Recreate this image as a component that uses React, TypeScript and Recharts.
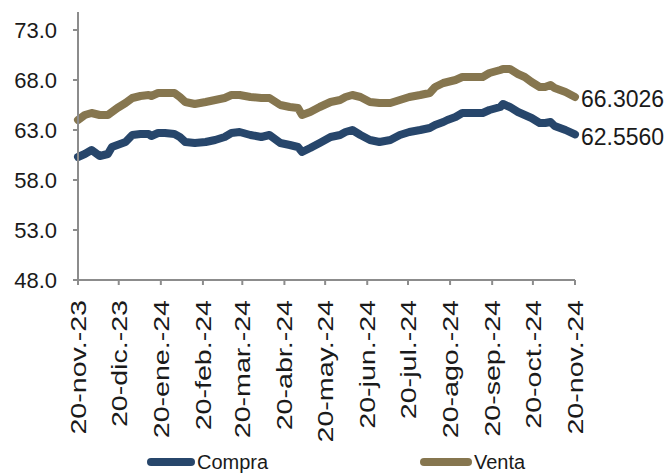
import { LineChart, Line, XAxis, YAxis, Legend } from "recharts";

// días desde el 20-nov-23
const days = [
  0, 5, 10, 16, 22, 25, 29, 35, 40, 46, 52, 54, 59, 64, 71, 75, 79, 86, 94, 101,
  108, 113, 119, 127, 135, 141, 149, 156, 162, 165, 171, 178, 186, 193, 197, 202,
  208, 215, 222, 230, 237, 244, 252, 259, 263, 269, 272, 278, 283, 298, 303, 311,
  313, 318, 324, 329, 334, 340, 344, 348, 351, 359, 366,
];
const compra = [
  60.3, 60.6, 61.0, 60.4, 60.6, 61.3, 61.5, 61.8, 62.5, 62.6, 62.6, 62.4, 62.7, 62.7,
  62.6, 62.3, 61.8, 61.7, 61.8, 62.0, 62.3, 62.7, 62.8, 62.5, 62.3, 62.5, 61.7, 61.5,
  61.3, 60.8, 61.2, 61.7, 62.3, 62.5, 62.8, 63.0, 62.5, 62.0, 61.8, 62.0, 62.5, 62.8,
  63.0, 63.2, 63.5, 63.8, 64.0, 64.3, 64.7, 64.7, 65.0, 65.3, 65.6, 65.3, 64.8, 64.5,
  64.2, 63.7, 63.7, 63.8, 63.4, 63.0, 62.556,
];
const venta = [
  64.0, 64.5, 64.7, 64.5, 64.5, 64.8, 65.2, 65.7, 66.2, 66.4, 66.5, 66.4, 66.7, 66.7,
  66.7, 66.3, 65.8, 65.6, 65.8, 66.0, 66.2, 66.5, 66.5, 66.3, 66.2, 66.2, 65.5, 65.3,
  65.2, 64.5, 64.8, 65.3, 65.8, 66.0, 66.3, 66.5, 66.3, 65.8, 65.7, 65.7, 66.0, 66.3,
  66.5, 66.7, 67.3, 67.7, 67.8, 68.0, 68.3, 68.3, 68.7, 69.0, 69.1, 69.1, 68.6, 68.3,
  67.8, 67.3, 67.3, 67.5, 67.2, 66.8, 66.3026,
];

const tickDays = [0, 30, 61, 92, 121, 152, 182, 213, 243, 274, 305, 335, 366];
const tickLabels = [
  "20-nov.-23", "20-dic.-23", "20-ene.-24", "20-feb.-24", "20-mar.-24", "20-abr.-24",
  "20-may.-24", "20-jun.-24", "20-jul.-24", "20-ago.-24", "20-sep.-24", "20-oct.-24",
  "20-nov.-24",
];
const yTicks = [48, 53, 58, 63, 68, 73];
const endLabels = ["62.5560", "66.3026"];

const data = days.map((d, i) => ({ day: d, compra: compra[i], venta: venta[i] }));

const BLUE = "#27466b";
const KHAKI = "#86764f";
const AXIS = "#8c8c8c";
const FONT = "'Liberation Sans', Arial, sans-serif";

function XTick(props: any) {
  const { x, y, payload } = props;
  const i = tickDays.indexOf(payload.value);
  // the original labels are stretched along their length
  return (
    <g transform={`translate(${x},${y + 13}) rotate(-90) scale(1.3,1)`}>
      <text x={0} y={0} dy="0.36em" textAnchor="end" fill="#1a1a1a" fontSize={22} fontFamily={FONT}>
        {tickLabels[i]}
      </text>
    </g>
  );
}

function endLabel(text: string) {
  return (props: any) => {
    const { x, y, index } = props;
    if (index !== data.length - 1) return null;
    return (
      <text x={x + 6} y={y + 2} dy="0.36em" fill="#1a1a1a" fontSize={23} fontFamily={FONT}>
        {text}
      </text>
    );
  };
}

function LegendBox() {
  return (
    <div style={{ position: "relative", width: 667, height: 38, fontFamily: FONT }}>
      <div style={{ position: "absolute", left: 147, top: 6, width: 48, height: 8, borderRadius: 4, background: BLUE }} />
      <div style={{ position: "absolute", left: 197, top: 0, fontSize: 20, lineHeight: 1, color: "#1a1a1a" }}>
        Compra
      </div>
      <div style={{ position: "absolute", left: 420, top: 6, width: 52, height: 8, borderRadius: 4, background: KHAKI }} />
      <div style={{ position: "absolute", left: 474, top: 0, fontSize: 20, lineHeight: 1, color: "#1a1a1a" }}>
        Venta
      </div>
    </div>
  );
}

export default function App() {
  return (
    <div
      style={{
        position: "absolute",
        left: 0,
        top: 0,
        width: 667,
        height: 475,
        overflow: "hidden",
        background: "#fff",
      }}
    >
      <LineChart width={667} height={490} data={data} margin={{ top: 12, right: 92, left: 0, bottom: 0 }}>
        <XAxis
          dataKey="day"
          type="number"
          domain={[0, 366]}
          ticks={tickDays}
          interval={0}
          height={172}
          tick={<XTick />}
          tickSize={5}
          tickMargin={2}
          stroke={AXIS}
          strokeWidth={2}
        />
        <YAxis
          domain={[48, 74.8]}
          ticks={yTicks}
          width={78}
          tickSize={5}
          tickMargin={16}
          tickFormatter={(v: number) => v.toFixed(1)}
          tick={{ fill: "#1a1a1a", fontSize: 22, fontFamily: FONT }}
          stroke={AXIS}
          strokeWidth={2}
        />
        <Legend verticalAlign="bottom" content={<LegendBox />} wrapperStyle={{ left: 0, width: 667 }} />
        <Line
          dataKey="compra"
          name="Compra"
          stroke={BLUE}
          strokeWidth={8}
          strokeLinejoin="round"
          strokeLinecap="round"
          dot={false}
          isAnimationActive={false}
          label={endLabel(endLabels[0])}
        />
        <Line
          dataKey="venta"
          name="Venta"
          stroke={KHAKI}
          strokeWidth={8}
          strokeLinejoin="round"
          strokeLinecap="round"
          dot={false}
          isAnimationActive={false}
          label={endLabel(endLabels[1])}
        />
      </LineChart>
    </div>
  );
}
